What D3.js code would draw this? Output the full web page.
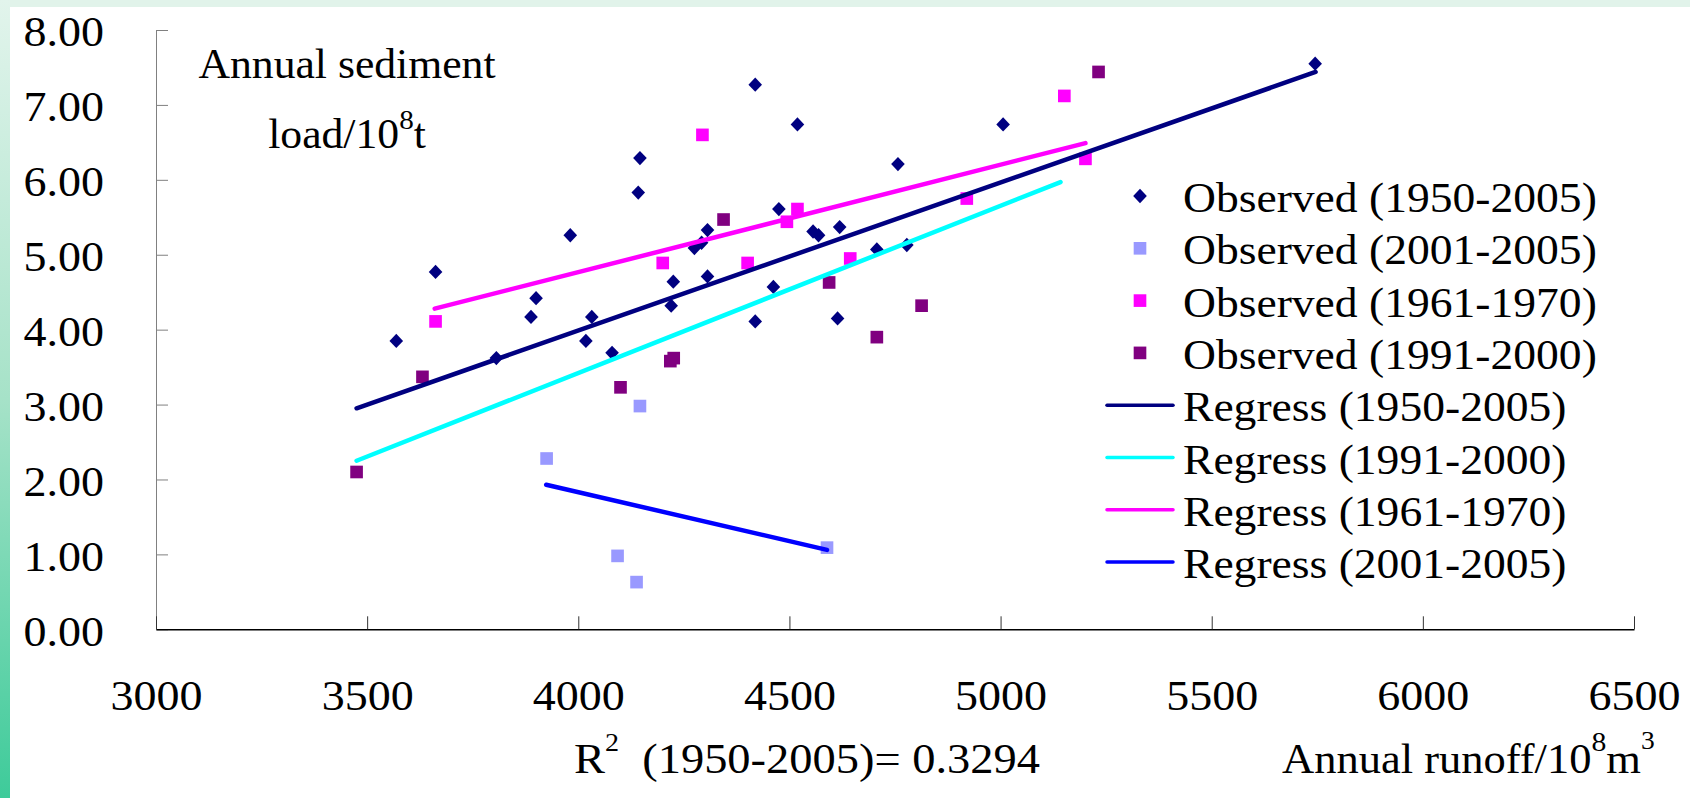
<!DOCTYPE html>
<html>
<head>
<meta charset="utf-8">
<script src="https://cdn.jsdelivr.net/npm/d3@7"></script>
<style>
body { margin: 0; background: #fff; }
svg { display: block; font-family: "Liberation Serif", "Times New Roman", serif; }
</style>
</head>
<body>
<svg id="chart"></svg>
<script>
// Axis ticks
const xTicks = [3000, 3500, 4000, 4500, 5000, 5500, 6000, 6500];
const yTicks = [0, 1, 2, 3, 4, 5, 6, 7, 8];

// Observed points [runoff, sediment load]
const obs1950 = [
  [3569, 3.85], [3662, 4.77], [3806, 3.62], [3888, 4.17], [3900, 4.42],
  [3981, 5.26], [4018, 3.85], [4032, 4.17], [4080, 3.69], [4142, 5.83],
  [4146, 6.29], [4220, 4.32], [4225, 4.64], [4275, 5.09], [4292, 5.16],
  [4306, 5.33], [4306, 4.71], [4419, 7.27], [4419, 4.11], [4462, 4.57],
  [4475, 5.61], [4519, 6.74], [4556, 5.31], [4569, 5.26], [4614, 4.15],
  [4619, 5.37], [4707, 5.07], [4757, 6.21], [4778, 5.13], [5006, 6.74],
  [5745, 7.55]
];
const obs2001 = [[3925, 2.28], [4093, 0.98], [4138, 0.63], [4146, 2.98], [4589, 1.09]];
const obs1961 = [
  [3662, 4.11], [4200, 4.89], [4294, 6.60], [4401, 4.89], [4494, 5.44],
  [4519, 5.61], [4644, 4.95], [4920, 5.75], [5151, 7.12], [5201, 6.28]
];
const obs1991 = [
  [3475, 2.10], [3631, 3.37], [4100, 3.23], [4218, 3.58], [4226, 3.62],
  [4344, 5.47], [4594, 4.63], [4707, 3.90], [4813, 4.32], [5232, 7.44]
];

// Regression line end points
const reg1950 = [[3475, 2.95], [5746, 7.44]];
const reg1991 = [[3475, 2.25], [5142, 5.97]];
const reg1961 = [[3660, 4.28], [5201, 6.49]];
const reg2001 = [[3924, 1.93], [4589, 1.06]];

const width = 1690;
const height = 798;
const font = 'Liberation Serif, Times New Roman, serif';

// diamond marker, a little taller than wide
const diamond = {
  draw(ctx, size) {
    const r = Math.sqrt(size) / 2;
    ctx.moveTo(0, -r * 1.05);
    ctx.lineTo(r, 0);
    ctx.lineTo(0, r * 1.05);
    ctx.lineTo(-r, 0);
    ctx.closePath();
  }
};

const pointSeries = [
  { name: 'Observed (1950-2005)', data: obs1950, color: '#000080', shape: diamond, size: 185 },
  { name: 'Observed (2001-2005)', data: obs2001, color: '#9999ff', shape: d3.symbolSquare, size: 160 },
  { name: 'Observed (1961-1970)', data: obs1961, color: '#ff00ff', shape: d3.symbolSquare, size: 160 },
  { name: 'Observed (1991-2000)', data: obs1991, color: '#800080', shape: d3.symbolSquare, size: 160 }
];
const lineSeries = [
  { name: 'Regress (1950-2005)', data: reg1950, color: '#000080' },
  { name: 'Regress (1991-2000)', data: reg1991, color: '#00ffff' },
  { name: 'Regress (1961-1970)', data: reg1961, color: '#ff00ff' },
  { name: 'Regress (2001-2005)', data: reg2001, color: '#0000ff' }
];

// text in the picture is a bit wider than the font, stretch it
function stretch(sel, k) {
  sel.each(function () {
    const t = d3.select(this);
    const tx = +t.attr('x') || 0;
    const ty = +t.attr('y') || 0;
    t.attr('x', 0).attr('y', 0)
      .attr('transform', `translate(${tx},${ty}) scale(${k},1)`);
  });
}

const svg = d3.select('#chart')
  .attr('width', width)
  .attr('height', height);

// Background frame
const grad = svg.append('defs').append('linearGradient')
  .attr('id', 'side')
  .attr('x1', 0).attr('y1', 0).attr('x2', 0).attr('y2', 1);
grad.append('stop').attr('offset', 0).attr('stop-color', '#e2f4ec');
grad.append('stop').attr('offset', 0.5).attr('stop-color', '#a6e2c8');
grad.append('stop').attr('offset', 1).attr('stop-color', '#3ecb9a');
svg.append('rect').attr('width', width).attr('height', 7).attr('fill', '#e1f3ea');
svg.append('rect').attr('width', 10).attr('height', height).attr('fill', 'url(#side)');

// Scales
const x = d3.scaleLinear().domain([3000, 6500]).range([156, 1634]);
const y = d3.scaleLinear().domain([0, 8]).range([629.3, 30]);

// Y axis
const yAxis = svg.append('g')
  .attr('transform', `translate(${x(3000)},0)`)
  .call(d3.axisLeft(y)
    .tickValues(yTicks)
    .tickFormat(d3.format('.2f'))
    .tickSizeInner(-12)
    .tickSizeOuter(0)
    .tickPadding(52))
  .attr('font-family', font)
  .attr('font-size', 43);
yAxis.select('.domain').attr('stroke', '#808080');
yAxis.selectAll('.tick line').attr('stroke', '#808080');
yAxis.selectAll('.tick text').attr('fill', '#000').attr('dy', '0.37em');
stretch(yAxis.selectAll('.tick text'), 1.07);

// X axis
const xAxis = svg.append('g')
  .attr('transform', `translate(0,${y(0)})`)
  .call(d3.axisBottom(x)
    .tickValues(xTicks)
    .tickFormat(d3.format('d'))
    .tickSizeInner(-13)
    .tickSizeOuter(0)
    .tickPadding(50))
  .attr('font-family', font)
  .attr('font-size', 43);
xAxis.select('.domain').attr('stroke', '#000').attr('stroke-width', 1.5);
xAxis.selectAll('.tick line').attr('stroke', '#333');
xAxis.selectAll('.tick text').attr('fill', '#000');
stretch(xAxis.selectAll('.tick text'), 1.07);

// Points
pointSeries.forEach(s => {
  svg.append('g')
    .selectAll('path')
    .data(s.data)
    .join('path')
    .attr('transform', d => `translate(${x(d[0])},${y(d[1])})`)
    .attr('d', d3.symbol(s.shape, s.size))
    .attr('fill', s.color);
});

// Regression lines
const line = d3.line().x(d => x(d[0])).y(d => y(d[1]));
lineSeries.forEach(s => {
  svg.append('path')
    .datum(s.data)
    .attr('d', line)
    .attr('fill', 'none')
    .attr('stroke', s.color)
    .attr('stroke-width', 4.5)
    .attr('stroke-linecap', 'round');
});

// Legend
const legend = svg.append('g').attr('font-family', font).attr('font-size', 43);
const rowY = i => 196 + i * 52.3;
pointSeries.forEach((s, i) => {
  legend.append('path')
    .attr('transform', `translate(1140,${rowY(i)})`)
    .attr('d', d3.symbol(s.shape, s.size))
    .attr('fill', s.color);
  legend.append('text')
    .attr('x', 1183).attr('y', rowY(i) + 16)
    .text(s.name);
});
lineSeries.forEach((s, j) => {
  const i = j + 4;
  legend.append('line')
    .attr('x1', 1107).attr('x2', 1173)
    .attr('y1', rowY(i)).attr('y2', rowY(i))
    .attr('stroke', s.color)
    .attr('stroke-width', 3.5)
    .attr('stroke-linecap', 'round');
  legend.append('text')
    .attr('x', 1183).attr('y', rowY(i) + 16)
    .text(s.name);
});
stretch(legend.selectAll('text'), 1.06);

// Axis titles and R2 note
const yTitle1 = svg.append('text')
  .attr('x', 347).attr('y', 78)
  .attr('text-anchor', 'middle')
  .attr('font-size', 42)
  .text('Annual sediment');
const yTitle2 = svg.append('text')
  .attr('x', 347).attr('y', 148)
  .attr('text-anchor', 'middle')
  .attr('font-size', 42);
yTitle2.append('tspan').text('load/10');
yTitle2.append('tspan').attr('font-size', 28).attr('dy', -19).text('8');
yTitle2.append('tspan').attr('dy', 19).text('t');

const note = svg.append('text')
  .attr('x', 574).attr('y', 773)
  .attr('font-size', 43)
  .style('white-space', 'pre');
note.append('tspan').text('R');
note.append('tspan').attr('font-size', 26).attr('dy', -22).text('2');
note.append('tspan').attr('dy', 22).text('  (1950-2005)= 0.3294');

const xTitle = svg.append('text')
  .attr('x', 1282).attr('y', 773)
  .attr('font-size', 42);
xTitle.append('tspan').text('Annual runoff/10');
xTitle.append('tspan').attr('font-size', 28).attr('dy', -22).text('8');
xTitle.append('tspan').attr('dy', 22).text('m');
xTitle.append('tspan').attr('font-size', 26).attr('dy', -24).text('3');

stretch(yTitle1, 1.04);
stretch(yTitle2, 1.04);
stretch(note, 1.08);
stretch(xTitle, 1.06);
</script>
</body>
</html>
